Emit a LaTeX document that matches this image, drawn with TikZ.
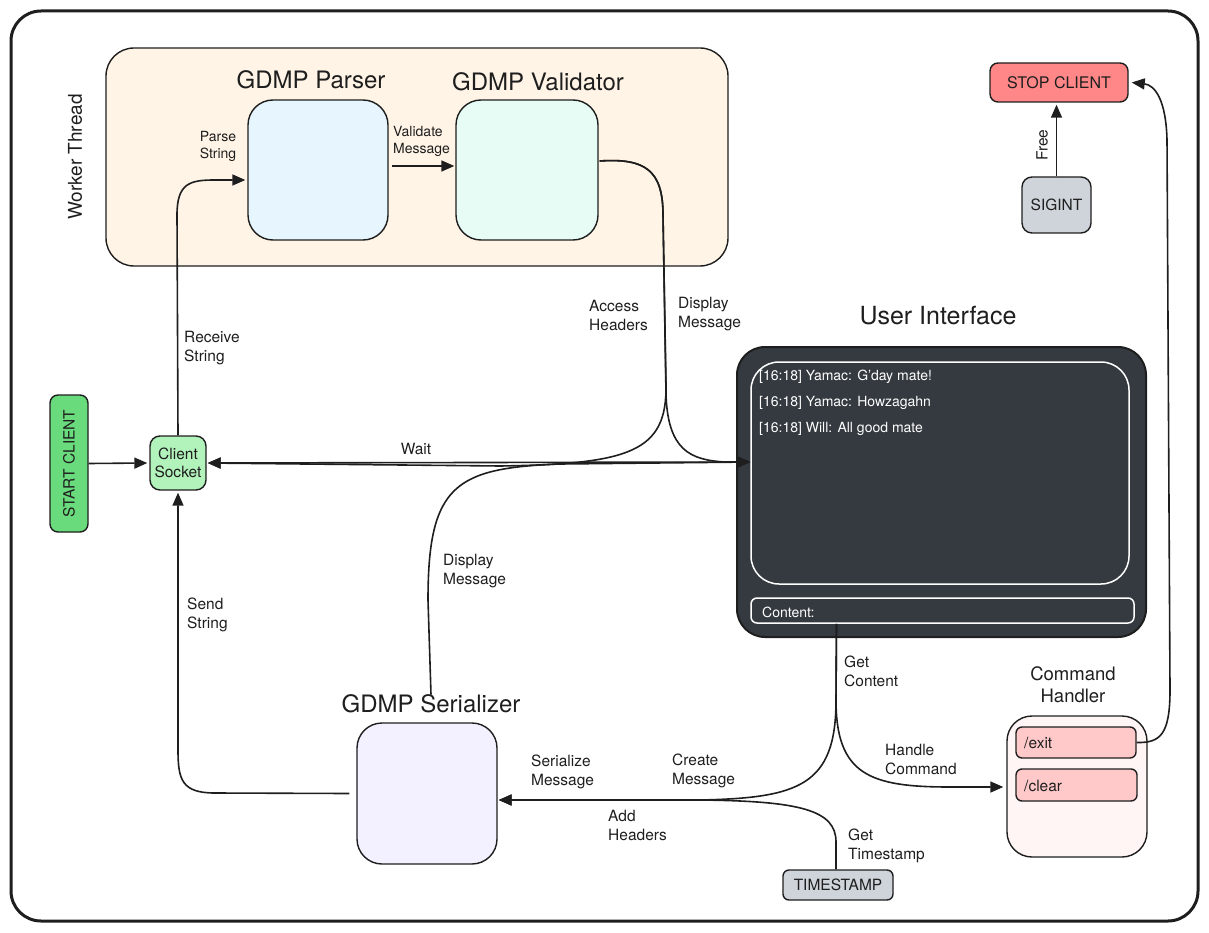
\documentclass[tikz,border=0pt]{standalone}
\usepackage{fontspec}
\setmainfont{TeX Gyre Heros}
\usetikzlibrary{arrows.meta,calc}
\definecolor{ink}{HTML}{1E1E1E}
\definecolor{workerfill}{HTML}{FFF4E6}
\definecolor{parserfill}{HTML}{E7F5FF}
\definecolor{validfill}{HTML}{E6FCF5}
\definecolor{serialfill}{HTML}{F3F0FF}
\definecolor{handlerfill}{HTML}{FFF5F5}
\definecolor{cmdfill}{HTML}{FFC9C9}
\definecolor{stopfill}{HTML}{FF8787}
\definecolor{grayfill}{HTML}{CED4DA}
\definecolor{socketfill}{HTML}{B2F2BB}
\definecolor{startfill}{HTML}{69DB7C}
\definecolor{uifill}{HTML}{343A40}
\begin{document}
\begin{tikzpicture}[x=1pt,y=-1pt,line join=round,
  bx/.style={draw=ink,line width=1.4pt,rounded corners=#1,inner sep=0pt},
  lbl/.style={text=ink,font=\fontsize{15.5}{19}\selectfont,align=left,inner sep=0pt},
  small/.style={text=ink,font=\fontsize{14}{17}\selectfont,align=left,inner sep=0pt},
  ttl/.style={text=ink,font=\fontsize{24}{28}\selectfont,inner sep=0pt},
  msg/.style={text=white,font=\fontsize{14}{17}\selectfont,inner sep=0pt,anchor=west},
  conn/.style={draw=ink,line width=1.6pt,-{Triangle[length=13pt,width=11pt]}},
  plain/.style={draw=ink,line width=1.6pt},
  both/.style={draw=ink,line width=1.6pt,{Triangle[length=13pt,width=11pt]}-{Triangle[length=13pt,width=11pt]}}
]
\useasboundingbox (0,0) rectangle (1209,933);
% outer frame
\draw[ink,line width=3pt,rounded corners=30pt] (11,11) rectangle (1198,921);

% worker thread
\node[bx=28pt,fill=workerfill,minimum width=622pt,minimum height=218pt] (worker) at (417,157) {};
\node[text=ink,font=\fontsize{19}{22}\selectfont,rotate=90,inner sep=0pt] (workerlbl) at (75,157) {Worker Thread};
\node[ttl] (parsertitle) at (311,80) {GDMP Parser};
\node[bx=25pt,fill=parserfill,minimum width=140pt,minimum height=140pt] (parser) at (318,170) {};
\node[ttl] (validtitle) at (538,82) {GDMP Validator};
\node[bx=25pt,fill=validfill,minimum width=142pt,minimum height=140pt] (validator) at (527,170) {};

% stop / sigint
\node[bx=8pt,fill=stopfill,minimum width=138pt,minimum height=39pt,text=ink,font=\fontsize{16}{19}\selectfont] (stop) at (1059,82.5) {STOP CLIENT};
\node[bx=10pt,fill=grayfill,minimum width=69pt,minimum height=56pt,text=ink,font=\fontsize{15.5}{19}\selectfont] (sigint) at (1056.5,205) {SIGINT};

% start / socket
\node[bx=8pt,fill=startfill,minimum width=38pt,minimum height=137pt] (start) at (69,463.5) {};
\node[text=ink,font=\fontsize{15.5}{19}\selectfont,rotate=90,inner sep=0pt] (startlbl) at (69,463.5) {START CLIENT};
\node[bx=10pt,fill=socketfill,minimum width=56pt,minimum height=54pt,text=ink,font=\fontsize{15.5}{18}\selectfont,align=center] (socket) at (178,463) {Client\\Socket};

% user interface
\node[text=ink,font=\fontsize{25}{29}\selectfont,inner sep=0pt] (uititle) at (938,316) {User Interface};
\node[draw=ink,line width=2pt,fill=uifill,rounded corners=28pt,minimum width=409pt,minimum height=290pt] (ui) at (941.5,492) {};
\node[draw=white,line width=1.5pt,rounded corners=28pt,minimum width=378pt,minimum height=222pt] (msgs) at (940,473) {};
\node[draw=white,line width=1.5pt,rounded corners=6pt,minimum width=383pt,minimum height=25pt] (content) at (942.5,610.5) {};
\node[msg] (m1) at (759,377) {[16:18] Yamac: G'day mate!};
\node[msg] (m2) at (759,403) {[16:18] Yamac: Howzagahn};
\node[msg] (m3) at (759,429) {[16:18] Will: All good mate};
\node[msg] (contentlbl) at (762,612) {Content:};

% serializer
\node[ttl] (sertitle) at (431,704) {GDMP Serializer};
\node[bx=25pt,fill=serialfill,minimum width=140pt,minimum height=141pt] (serializer) at (427,793.5) {};

% timestamp
\node[bx=6pt,fill=grayfill,minimum width=110pt,minimum height=30pt,text=ink,font=\fontsize{15.5}{19}\selectfont] (timestamp) at (838,885) {TIMESTAMP};

% command handler
\node[text=ink,font=\fontsize{18.5}{22}\selectfont,align=center,inner sep=0pt] (handlertitle) at (1073,685) {Command\\Handler};
\node[bx=25pt,fill=handlerfill,minimum width=140pt,minimum height=141pt] (handler) at (1077,786.5) {};
\node[bx=6pt,fill=cmdfill,minimum width=120pt,minimum height=31pt] (exitbox) at (1076,742.5) {};
\node[text=ink,font=\fontsize{15.5}{19}\selectfont,anchor=west,inner sep=0pt] (exitlbl) at (1024,743) {/exit};
\node[bx=6pt,fill=cmdfill,minimum width=121pt,minimum height=32pt] (clearbox) at (1076.5,785) {};
\node[text=ink,font=\fontsize{15.5}{19}\selectfont,anchor=west,inner sep=0pt] (clearlbl) at (1024,786) {/clear};

% ---------- connectors ----------
\draw[conn] (start.east) -- ($(socket.west)+(-2,0)$);
\draw[conn] (socket.north) -- (177,215) .. controls (177,183) and (190,180) .. (215,180) -- ($(parser.west)+(-2,10)$);
\draw[conn] ($(parser.east)+(3,-4)$) -- ($(validator.west)+(-1,-4)$);
% validator -> UI (display message) and access headers branch
\draw[conn] ($(validator.east)+(1,-9)$) .. controls (645,158) and (663,170) .. (663,215) -- (666,395) .. controls (668,450) and (690,460) .. (725,462) -- ($(msgs.west)+(0,-11)$);
\draw[conn] ($(validator.east)+(1,-9)$) .. controls (645,158) and (663,170) .. (663,215) -- (666,385) .. controls (667,452) and (630,464) .. (500,466) -- ($(socket.east)+(1,0)$);
% wait
\draw[both] ($(socket.east)+(1,0)$) -- ($(msgs.west)+(0,-11)$);
% serializer -> UI display message
\draw[conn] (sertitle.north) -- (428,600) .. controls (428,485) and (455,468) .. (560,464) -- ($(msgs.west)+(0,-11)$);
% send string
\draw[conn] ($(serializer.west)+(-7,0)$) -- (215,793) .. controls (182,793) and (178,780) .. (178,750) -- ($(socket.south)+(0,2)$);
% get content -> create message / handle command
\draw[conn] ($(content.south)+(-106,0)$) -- (836,700) .. controls (836,785) and (800,798) .. (700,800) -- ($(serializer.east)+(1,6.5)$);
\draw[conn] ($(content.south)+(-106,0)$) -- (836,700) .. controls (836,775) and (870,787) .. (950,787) -- ($(handler.west)+(-3,0.5)$);
% timestamp
\draw[conn] ($(timestamp.north)+(-2,0)$) -- (836,842) .. controls (836,810) and (800,801) .. (700,800) -- ($(serializer.east)+(1,6.5)$);
% exit -> stop
\draw[conn] (exitbox.east) .. controls (1160,743) and (1170,735) .. (1170,690) -- (1167,140) .. controls (1166,100) and (1155,85) .. ($(stop.east)+(3,0)$);
% sigint -> stop
\draw[conn] (sigint.north) -- ($(sigint.north |- stop.south)+(0,2)$);

% ---------- labels ----------
\node[small,align=center] (lparse) at (218,146) {Parse\\String};
\node[small,anchor=west] (lvalid) at (393,141) {Validate\\Message};
\node[lbl,anchor=west] (lrecv) at (184,348) {Receive\\String};
\node[lbl,anchor=west] (lsend) at (187,615) {Send\\String};
\node[lbl] (lwait) at (416,449) {Wait};
\node[lbl,anchor=west] (laccess) at (589,315) {Access\\Headers};
\node[lbl,anchor=west] (ldisp1) at (678,314) {Display\\Message};
\node[lbl,anchor=west] (ldisp2) at (443,571) {Display\\Message};
\node[lbl,anchor=west] (lget) at (844,671) {Get\\Content};
\node[lbl,anchor=west] (lhandle) at (885,759) {Handle\\Command};
\node[lbl,anchor=west] (lcreate) at (672,771) {Create\\Message};
\node[lbl,anchor=west] (lserial) at (531,772) {Serialize\\Message};
\node[lbl,anchor=west] (ladd) at (608,825) {Add\\Headers};
\node[lbl,anchor=west] (lts) at (848,846) {Get\\Timestamp};
\node[lbl,rotate=90] (lfree) at (1042,145) {Free};
\end{tikzpicture}
\end{document}
